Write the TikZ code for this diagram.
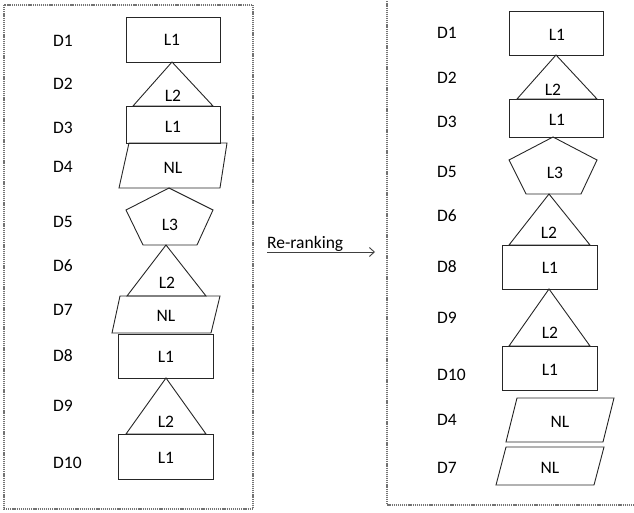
\documentclass[tikz,border=0pt]{standalone}
\usepackage{fontspec}
\setmainfont{Carlito}
\usetikzlibrary{arrows.meta}
\tikzset{
  shp/.style={draw=black!85, line width=0.9pt, line join=miter},
  txt/.style={font=\fontsize{17.5}{20}\selectfont, inner sep=0pt, text=black},
  lab/.style={txt, anchor=west},
  frm/.style={draw=black!55, line width=1.3pt, dash pattern=on 1.2pt off 0.9pt},
}
\begin{document}
\begin{tikzpicture}[x=1pt,y=-1pt]
\useasboundingbox (0,0) rectangle (634,513);
\clip (0,0) rectangle (634,513);
% frames
\draw[frm] (4,5) rectangle (253,509);
\draw[frm] (387,-5) -- (387,505) -- (640,505);

% ---------- left column ----------
\draw[shp] (126,17) rectangle (220,62);
\draw[shp] (172,62) -- (133,106) -- (213,106) -- cycle;
\draw[shp] (126,106) rectangle (220,143);
\draw[shp] (129,143) -- (227,143) -- (220,188) -- (119,188) -- cycle;
\draw[shp] (169,188) -- (213,210) -- (197,245) -- (143,245) -- (126,210) -- cycle;
\draw[shp] (166,245) -- (127,296) -- (206,296) -- cycle;
\draw[shp] (120,296) -- (220,296) -- (211,333) -- (112,333) -- cycle;
\draw[shp] (118,334) rectangle (213,378);
\draw[shp] (166,378) -- (126,434) -- (206,434) -- cycle;
\draw[shp] (118,434) rectangle (213,479);

\node[txt] (la1) at (172,40) {L1};
\node[txt] (la2) at (173,96) {L2};
\node[txt] (la3) at (173,127) {L1};
\node[txt] (la4) at (173,168) {NL};
\node[txt] (la5) at (170,225) {L3};
\node[txt] (la6) at (167,283) {L2};
\node[txt] (la7) at (166,316) {NL};
\node[txt] (la8) at (166,357) {L1};
\node[txt] (la9) at (166,422) {L2};
\node[txt] (la10) at (166,458) {L1};

\node[lab] (ld1) at (53,41) {D1};
\node[lab] (ld2) at (53,84) {D2};
\node[lab] (ld3) at (53,128) {D3};
\node[lab] (ld4) at (53,167) {D4};
\node[lab] (ld5) at (53,222) {D5};
\node[lab] (ld6) at (53,266) {D6};
\node[lab] (ld7) at (53,310) {D7};
\node[lab] (ld8) at (53,356) {D8};
\node[lab] (ld9) at (53,406) {D9};
\node[lab] (ld10) at (53,463) {D10};

% ---------- arrow ----------
\coordinate (a1) at (267,252);
\coordinate (a2) at (375,252);
\draw[draw=black!75, line width=0.9pt, -{Straight Barb[length=5pt,width=9pt]}] (a1) -- (a2);
\node[txt, anchor=base west] (rr) at (267,248) {Re-ranking};

% ---------- right column ----------
\draw[shp] (509,11) rectangle (603,55);
\draw[shp] (556,55) -- (517,99) -- (597,99) -- cycle;
\draw[shp] (509,99) rectangle (603,137);
\draw[shp] (553,137) -- (597,160) -- (581,194) -- (526,194) -- (509,160) -- cycle;
\draw[shp] (549,194) -- (509,245) -- (590,245) -- cycle;
\draw[shp] (502,245) rectangle (597,289);
\draw[shp] (549,289) -- (509,346) -- (590,346) -- cycle;
\draw[shp] (502,346) rectangle (597,390);
\draw[shp] (517,398) -- (614,398) -- (603,442) -- (506,442) -- cycle;
\draw[shp] (506,447) -- (604,447) -- (594,485) -- (496,485) -- cycle;

\node[txt] (ra1) at (557,35) {L1};
\node[txt] (ra2) at (553,90) {L2};
\node[txt] (ra3) at (557,120) {L1};
\node[txt] (ra5) at (555,173) {L3};
\node[txt] (ra6) at (549,233) {L2};
\node[txt] (ra8) at (550,268) {L1};
\node[txt] (ra9) at (550,333) {L2};
\node[txt] (ra10) at (550,370) {L1};
\node[txt] (ra4) at (560,422) {NL};
\node[txt] (ra7) at (550,468) {NL};

\node[lab] (rd1) at (437,33) {D1};
\node[lab] (rd2) at (437,78) {D2};
\node[lab] (rd3) at (437,122) {D3};
\node[lab] (rd5) at (437,172) {D5};
\node[lab] (rd6) at (437,216) {D6};
\node[lab] (rd8) at (437,267) {D8};
\node[lab] (rd9) at (437,318) {D9};
\node[lab] (rd10) at (437,375) {D10};
\node[lab] (rd4) at (437,420) {D4};
\node[lab] (rd7) at (437,468) {D7};
\end{tikzpicture}
\end{document}
